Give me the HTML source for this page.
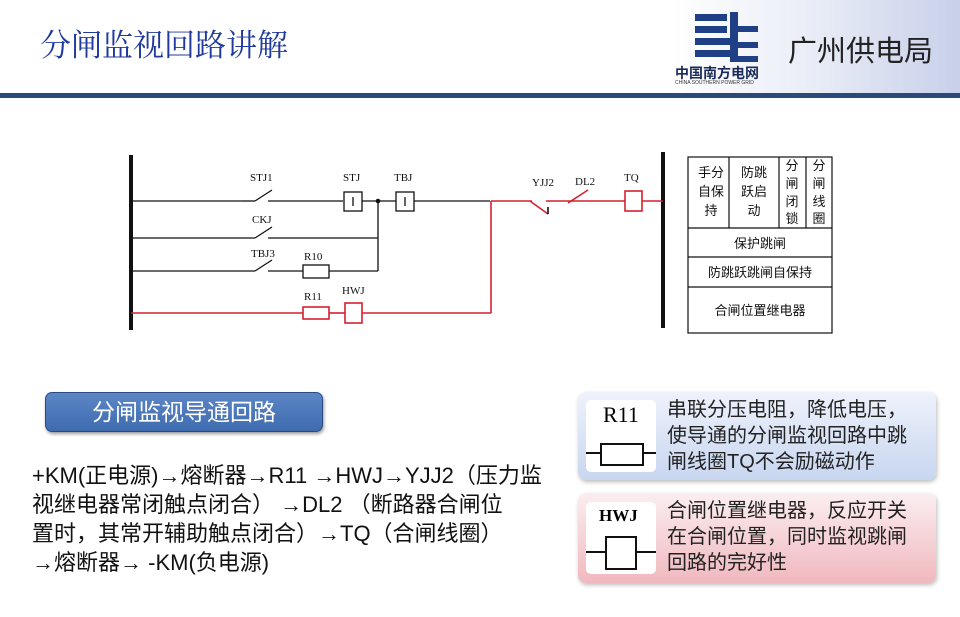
<!DOCTYPE html><html><head><meta charset="utf-8"><style>
body{margin:0;width:960px;height:617px;background:#fff;position:relative;overflow:hidden;font-family:"Liberation Sans","Noto Sans CJK SC",sans-serif}
.a{position:absolute}
</style></head><body>
<div class="a" style="left:0;top:0;width:960px;height:95px;background:linear-gradient(90deg,#fff 0,#fff 70%,#e8ecf6 85%,#c8d0ea 100%)"></div>
<div class="a" style="left:40px;top:20px;font-size:31px;color:#1f3a9c;font-family:'Noto Serif CJK SC',serif">分闸监视回路讲解</div>
<div class="a" style="left:0;top:93px;width:960px;height:5px;background:#2a4a7a"></div>
<svg class="a" style="left:690px;top:10px" width="80" height="55"><g fill="#1f3f86"><rect x="5" y="4" width="32" height="7"/><rect x="5" y="16" width="32" height="7"/><rect x="5" y="28" width="40" height="7"/><rect x="5" y="40" width="40" height="7"/><rect x="40" y="2" width="8" height="50"/><rect x="48" y="16" width="20" height="6"/><rect x="48" y="32" width="20" height="6"/><rect x="48" y="46" width="20" height="6"/></g></svg>
<div class="a" style="left:675px;top:63px;font-size:14px;font-weight:bold;color:#1a2a5a">中国南方电网</div>
<div class="a" style="left:675px;top:80px;font-size:5px;color:#333">CHINA SOUTHERN POWER GRID</div>
<div class="a" style="left:788px;top:28px;font-size:29px;color:#222">广州供电局</div>

<svg class="a" style="left:0;top:0" width="960" height="360" font-family="Liberation Serif,serif" font-size="11">
<g stroke="#111" fill="none" stroke-width="1.3">
<line x1="131" y1="155" x2="131" y2="330" stroke-width="4"/>
<line x1="663" y1="152" x2="663" y2="328" stroke-width="4"/>
<line x1="131" y1="201" x2="243" y2="201"/><line x1="243" y1="201" x2="255" y2="201"/><line x1="255" y1="201" x2="272" y2="190"/><line x1="268" y1="201" x2="343" y2="201"/>
<rect x="344" y="192" width="18" height="19" fill="#fff"/><line x1="353" y1="197" x2="353" y2="206"/>
<line x1="362" y1="201" x2="396" y2="201"/>
<rect x="396" y="192" width="18" height="19" fill="#fff"/><line x1="405" y1="197" x2="405" y2="206"/>
<line x1="414" y1="201" x2="490" y2="201"/>
<line x1="131" y1="238" x2="255" y2="238"/><line x1="255" y1="238" x2="272" y2="227"/><line x1="268" y1="238" x2="378" y2="238"/>
<line x1="131" y1="271" x2="255" y2="271"/><line x1="255" y1="271" x2="272" y2="260"/><line x1="268" y1="271" x2="303" y2="271"/>
<rect x="303" y="265" width="26" height="13" fill="#fff"/><line x1="329" y1="271" x2="378" y2="271"/>
<line x1="378" y1="201" x2="378" y2="271"/>
</g>
<circle cx="378" cy="201" r="2.3" fill="#111"/>
<g stroke="#d42030" fill="none" stroke-width="1.6">
<line x1="131" y1="313" x2="303" y2="313"/><rect x="303" y="307" width="26" height="12" fill="#fff"/>
<line x1="329" y1="313" x2="345" y2="313"/><rect x="345" y="303" width="17" height="20" fill="#fff"/>
<line x1="362" y1="313" x2="491" y2="313"/><line x1="491" y1="313" x2="491" y2="201"/>
<line x1="491" y1="201" x2="532" y2="201"/><line x1="530" y1="201" x2="548" y2="214"/>
<line x1="548" y1="214" x2="548" y2="207" stroke="#111"/>
<line x1="546" y1="201" x2="625" y2="201"/><line x1="568" y1="203" x2="588" y2="190"/>
<rect x="625" y="191" width="17" height="20" fill="#fff"/><line x1="642" y1="201" x2="663" y2="201"/>
</g>
<g fill="#111">
<text x="250" y="181">STJ1</text><text x="343" y="181">STJ</text><text x="394" y="181">TBJ</text>
<text x="252" y="223">CKJ</text><text x="251" y="257">TBJ3</text><text x="304" y="260">R10</text>
<text x="304" y="300">R11</text><text x="342" y="294">HWJ</text>
<text x="532" y="186">YJJ2</text><text x="575" y="185">DL2</text><text x="624" y="181">TQ</text>
</g>
<g stroke="#111" fill="#fff" stroke-width="1.2">
<rect x="688" y="157" width="144" height="176"/>
<line x1="688" y1="228" x2="832" y2="228"/><line x1="688" y1="257" x2="832" y2="257"/><line x1="688" y1="287" x2="832" y2="287"/>
<line x1="729" y1="157" x2="729" y2="228"/><line x1="779" y1="157" x2="779" y2="228"/><line x1="806" y1="157" x2="806" y2="228"/>
</g>
<g font-family="Noto Sans CJK SC,sans-serif" font-size="13" fill="#111" text-anchor="middle">
<text x="711" y="177">手分</text><text x="711" y="196">自保</text><text x="711" y="215">持</text>
<text x="754" y="177">防跳</text><text x="754" y="196">跃启</text><text x="754" y="215">动</text>
<text x="792" y="170">分</text><text x="792" y="188">闸</text><text x="792" y="206">闭</text><text x="792" y="223">锁</text>
<text x="819" y="170">分</text><text x="819" y="188">闸</text><text x="819" y="206">线</text><text x="819" y="223">圈</text>
<text x="760" y="248">保护跳闸</text><text x="760" y="277">防跳跃跳闸自保持</text><text x="760" y="315">合闸位置继电器</text>
</g>
</svg>

<div class="a" style="left:45px;top:392px;width:276px;height:38px;background:linear-gradient(#5b86c6,#3f6cb0);border:1px solid #2a4a80;border-radius:7px;color:#fff;font-size:23px;text-align:center;line-height:38px;box-shadow:1px 2px 3px #999">分闸监视导通回路</div>
<div class="a" style="left:32px;top:461px;font-size:22px;line-height:29px;color:#111;white-space:nowrap">+KM(正电源)→熔断器→R11 →HWJ→YJJ2（压力监<br>视继电器常闭触点闭合） →DL2 （断路器合闸位<br>置时，其常开辅助触点闭合）→TQ（合闸线圈）<br>→熔断器→ -KM(负电源)</div>

<div class="a" style="left:578px;top:392px;width:358px;height:88px;border-radius:8px;background:linear-gradient(#eef2fb,#c8d6f0);box-shadow:1px 2px 4px #bbb"></div>
<div class="a" style="left:586px;top:400px;width:70px;height:72px;background:#fff;border-radius:5px"></div>
<div class="a" style="left:603px;top:402px;font-size:22px;font-family:'Liberation Serif',serif">R11</div>
<div class="a" style="left:586px;top:452px;width:70px;height:2px;background:#111"></div>
<div class="a" style="left:600px;top:443px;width:40px;height:19px;border:2px solid #111;background:#fff"></div>
<div class="a" style="left:667px;top:397px;font-size:20px;line-height:26px;color:#222;white-space:nowrap">串联分压电阻，降低电压，<br>使导通的分闸监视回路中跳<br>闸线圈TQ不会励磁动作</div>

<div class="a" style="left:578px;top:493px;width:358px;height:90px;border-radius:8px;background:linear-gradient(#fbeef0,#f0b8be);box-shadow:1px 2px 4px #bbb"></div>
<div class="a" style="left:586px;top:502px;width:70px;height:72px;background:#fff;border-radius:5px"></div>
<div class="a" style="left:599px;top:506px;font-size:17px;font-weight:bold;font-family:'Liberation Serif',serif">HWJ</div>
<div class="a" style="left:586px;top:551px;width:70px;height:2px;background:#111"></div>
<div class="a" style="left:605px;top:536px;width:28px;height:30px;border:2px solid #111;background:#fff"></div>
<div class="a" style="left:667px;top:498px;font-size:20px;line-height:26px;color:#222;white-space:nowrap">合闸位置继电器，反应开关<br>在合闸位置，同时监视跳闸<br>回路的完好性</div>
</body></html>
